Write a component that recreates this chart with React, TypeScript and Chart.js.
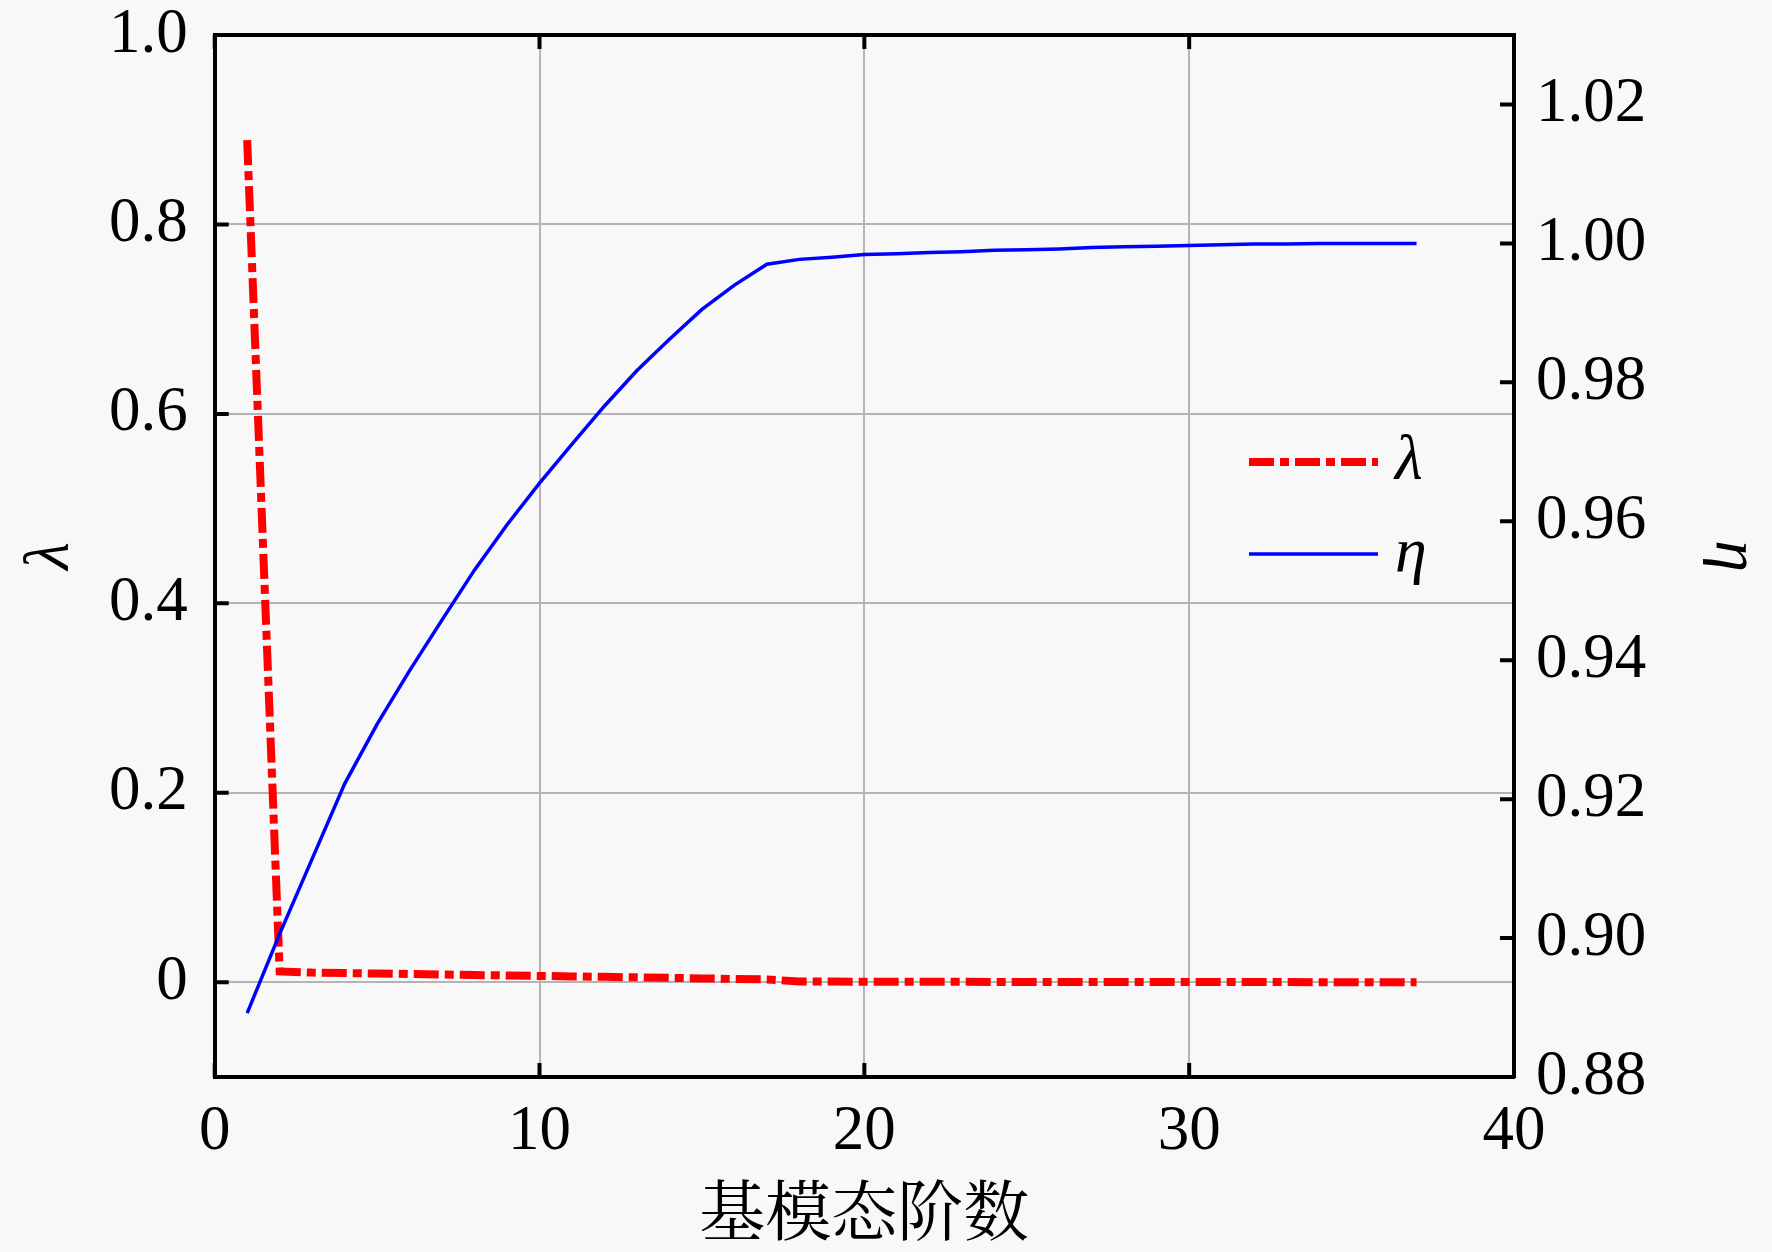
import React, { useEffect, useRef } from "react";
import { Chart, registerables } from "chart.js";

Chart.register(...registerables);

// ---------------- data ----------------
const MODE_ORDER = [
  1, 2, 3, 4, 5, 6, 7, 8, 9, 10, 11, 12, 13, 14, 15, 16, 17, 18, 19, 20,
  21, 22, 23, 24, 25, 26, 27, 28, 29, 30, 31, 32, 33, 34, 35, 36, 37,
];

const LAMBDA = [
  0.889, 0.0115, 0.0102, 0.0097, 0.0092, 0.0087, 0.0082, 0.0077, 0.0072, 0.0067,
  0.0062, 0.0057, 0.0052, 0.0047, 0.0041, 0.0035, 0.003, 0.0008, 0.0007, 0.0006,
  0.0006, 0.0005, 0.0005, 0.0004, 0.0004, 0.0004, 0.0003, 0.0003, 0.0003, 0.0002,
  0.0002, 0.0002, 0.0002, 0.0001, 0.0001, 0.0001, 0.0001,
];

const ETA = [
  0.8892, 0.9006, 0.9114, 0.9222, 0.9308, 0.9385, 0.9458, 0.953, 0.9595, 0.9655,
  0.9711, 0.9766, 0.9817, 0.9862, 0.9905, 0.994, 0.997, 0.9977, 0.998, 0.9984,
  0.9985, 0.9987, 0.9988, 0.999, 0.9991, 0.9992, 0.9994, 0.9995, 0.9996, 0.9997,
  0.9998, 0.9999, 0.9999, 1.0, 1.0, 1.0, 1.0,
];

const X_TICKS = [0, 10, 20, 30, 40];
const LAMBDA_TICKS = [0, 0.2, 0.4, 0.6, 0.8, 1.0];
const ETA_TICKS = [0.88, 0.9, 0.92, 0.94, 0.96, 0.98, 1.0, 1.02];
const SERIES_LABELS = ["λ", "η"];
const X_TITLE = "基模态阶数";

// ---------------- layout / style ----------------
const W = 1772;
const H = 1252;
const BG = "#f8f8f8";
const PLOT_LEFT = 214.7;
const PLOT_RIGHT = 1514;
const PLOT_TOP = 35;
const PLOT_BOTTOM = 1077;

const SERIF = "'Liberation Serif', 'Times New Roman', serif";
const CJK = "'Noto Serif CJK SC', 'Noto Sans CJK SC', sans-serif";
const GRID = "#b4b4b4";
const AXIS_W = 4;
const LAMBDA_DASH = [25, 6, 9, 6];

const noEdgePadding = (s: any) => {
  s.paddingTop = 0;
  s.paddingBottom = 0;
  s.paddingLeft = 0;
  s.paddingRight = 0;
};

const bgPlugin = {
  id: "bgFill",
  beforeDraw(chart: any) {
    const { ctx } = chart;
    ctx.save();
    ctx.fillStyle = BG;
    ctx.fillRect(0, 0, chart.width, chart.height);
    ctx.restore();
  },
};

const inwardTicks = {
  id: "inwardTicks",
  beforeDatasetsDraw(chart: any) {
    const { ctx, chartArea: a, scales } = chart;
    const len = 14;
    ctx.save();
    ctx.strokeStyle = "#000";
    ctx.lineWidth = AXIS_W;
    ctx.beginPath();
    for (const v of LAMBDA_TICKS) {
      const y = scales.y.getPixelForValue(v);
      ctx.moveTo(a.left, y);
      ctx.lineTo(a.left + len, y);
    }
    for (const v of ETA_TICKS) {
      const y = scales.y1.getPixelForValue(v);
      ctx.moveTo(a.right, y);
      ctx.lineTo(a.right - len, y);
    }
    for (const v of X_TICKS) {
      const x = scales.x.getPixelForValue(v);
      ctx.moveTo(x, a.bottom);
      ctx.lineTo(x, a.bottom - len);
      ctx.moveTo(x, a.top);
      ctx.lineTo(x, a.top + len);
    }
    ctx.stroke();
    ctx.restore();
  },
};

const LEGEND_X0 = 1249;
const LEGEND_X1 = 1378;
const LEGEND_TEXT_X = 1395;
const LEGEND_ROWS = [462, 554];

const legendPlugin = {
  id: "customLegend",
  afterDraw(chart: any) {
    const { ctx } = chart;
    ctx.save();
    chart.data.datasets.forEach((ds: any, i: number) => {
      const y = LEGEND_ROWS[i];
      ctx.beginPath();
      ctx.strokeStyle = ds.borderColor;
      ctx.lineWidth = ds.borderWidth;
      ctx.setLineDash(ds.borderDash || []);
      ctx.lineCap = "butt";
      ctx.moveTo(LEGEND_X0, y);
      ctx.lineTo(LEGEND_X1, y);
      ctx.stroke();
      ctx.setLineDash([]);
      ctx.fillStyle = "#000";
      ctx.font = `italic 64px ${SERIF}`;
      ctx.textBaseline = "middle";
      ctx.textAlign = "left";
      ctx.fillText(ds.label, LEGEND_TEXT_X, y);
    });
    ctx.restore();
  },
};

export default function App() {
  const ref = useRef<HTMLCanvasElement>(null);

  useEffect(() => {
    document.body.style.margin = "0";
    document.body.style.background = BG;
    const canvas = ref.current;
    if (!canvas) return;

    const lambdaPts = MODE_ORDER.map((x, i) => ({ x, y: LAMBDA[i] }));
    const etaPts = MODE_ORDER.map((x, i) => ({ x, y: ETA[i] }));

    const chart = new Chart(canvas, {
      type: "line",
      data: {
        datasets: [
          {
            label: SERIES_LABELS[0],
            data: lambdaPts,
            yAxisID: "y",
            borderColor: "#ff0000",
            backgroundColor: "#ff0000",
            borderWidth: 8,
            borderDash: LAMBDA_DASH,
            pointRadius: 0,
            tension: 0,
            order: 2,
          },
          {
            label: SERIES_LABELS[1],
            data: etaPts,
            yAxisID: "y1",
            borderColor: "#0000ff",
            backgroundColor: "#0000ff",
            borderWidth: 3.5,
            pointRadius: 0,
            tension: 0,
            order: 1,
          },
        ],
      },
      options: {
        responsive: false,
        animation: false,
        devicePixelRatio: 1,
        layout: { padding: { top: PLOT_TOP, left: 0, right: 0, bottom: 0 } },
        plugins: {
          legend: { display: false },
          tooltip: { enabled: false },
        },
        scales: {
          x: {
            type: "linear",
            position: "bottom",
            min: 0,
            max: 40,
            afterBuildTicks: (s: any) => {
              s.ticks = X_TICKS.map((v) => ({ value: v }));
            },
            afterFit: (s: any) => {
              s.height = H - PLOT_BOTTOM;
              noEdgePadding(s);
            },
            grid: { color: GRID, lineWidth: 2, drawTicks: false },
            border: { color: "#000", width: AXIS_W },
            ticks: {
              autoSkip: false,
              maxRotation: 0,
              padding: 18,
              color: "#000",
              font: { family: SERIF, size: 63 },
              callback: (v: any) => String(v),
            },
            title: {
              display: true,
              text: X_TITLE,
              color: "#000",
              font: { family: CJK, size: 66 },
              padding: { top: 0, bottom: 2 },
            },
          },
          x2: {
            type: "linear",
            position: "top",
            min: 0,
            max: 40,
            afterBuildTicks: (s: any) => {
              s.ticks = X_TICKS.map((v) => ({ value: v }));
            },
            afterFit: (s: any) => {
              s.height = 0;
              noEdgePadding(s);
            },
            grid: { drawOnChartArea: false, drawTicks: false },
            border: { color: "#000", width: AXIS_W },
            ticks: { display: false },
          },
          y: {
            type: "linear",
            position: "left",
            min: -0.1,
            max: 1.0,
            afterBuildTicks: (s: any) => {
              s.ticks = LAMBDA_TICKS.map((v) => ({ value: v }));
            },
            afterFit: (s: any) => {
              s.width = PLOT_LEFT;
              noEdgePadding(s);
            },
            grid: { color: GRID, lineWidth: 2, drawTicks: false },
            border: { color: "#000", width: AXIS_W },
            ticks: {
              autoSkip: false,
              padding: 27,
              color: "#000",
              font: { family: SERIF, size: 63 },
              callback: (v: any) => (Number(v) === 0 ? "0" : Number(v).toFixed(1)),
            },
            title: {
              display: true,
              text: SERIES_LABELS[0],
              color: "#000",
              font: { family: SERIF, size: 64, style: "italic" },
              padding: { top: 13, bottom: 0 },
            },
          },
          y1: {
            type: "linear",
            position: "right",
            min: 0.88,
            max: 1.03,
            afterBuildTicks: (s: any) => {
              s.ticks = ETA_TICKS.map((v) => ({ value: v }));
            },
            afterFit: (s: any) => {
              s.width = W - PLOT_RIGHT;
              noEdgePadding(s);
            },
            grid: { drawOnChartArea: false, drawTicks: false },
            border: { color: "#000", width: AXIS_W },
            ticks: {
              autoSkip: false,
              padding: 22,
              color: "#000",
              font: { family: SERIF, size: 63 },
              callback: (v: any) => Number(v).toFixed(2),
            },
            title: {
              display: true,
              text: SERIES_LABELS[1],
              color: "#000",
              font: { family: SERIF, size: 64, style: "italic" },
              padding: { top: 0, bottom: 0 },
            },
          },
        },
      } as any,
      plugins: [bgPlugin, inwardTicks, legendPlugin],
    });

    return () => chart.destroy();
  }, []);

  return (
    <div style={{ width: W, height: H, background: BG }}>
      <canvas ref={ref} width={W} height={H} style={{ display: "block", width: W, height: H }} />
    </div>
  );
}
